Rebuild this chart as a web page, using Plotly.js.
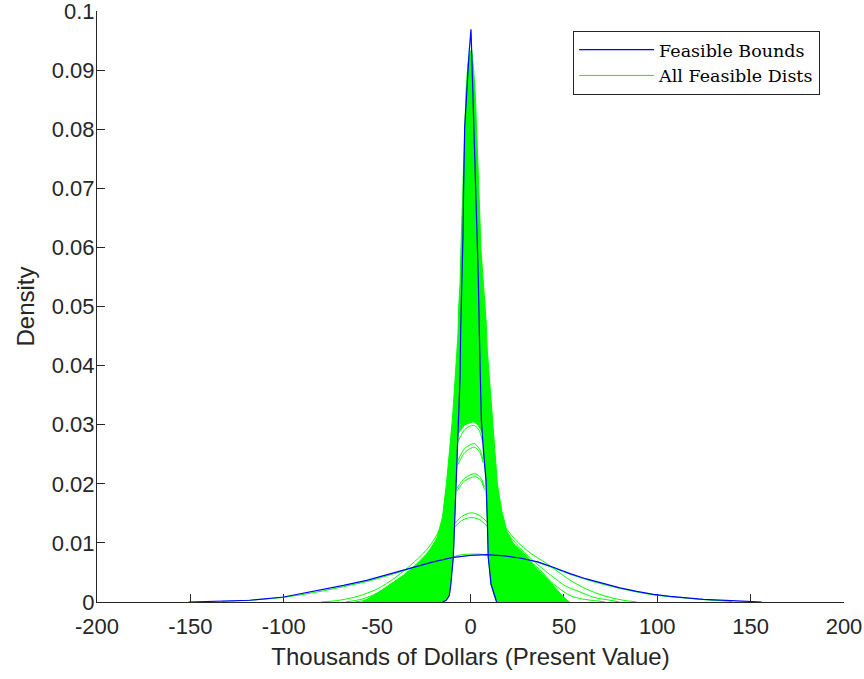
<!DOCTYPE html>
<html>
<head>
<meta charset="utf-8">
<script src="https://cdn.plot.ly/plotly-3.0.1.min.js"></script>
<style>html,body{margin:0;padding:0;background:#fff;}#chart{width:864px;height:679px;}</style>
</head>
<body>
<div id="chart"></div>
<script>
// ---- Data ----
const xTickVals = [-200, -150, -100, -50, 0, 50, 100, 150, 200];
const xTickText = ["-200", "-150", "-100", "-50", "0", "50", "100", "150", "200"];
const yTickVals = [0, 0.01, 0.02, 0.03, 0.04, 0.05, 0.06, 0.07, 0.08, 0.09, 0.1];
const yTickText = ["0", "0.01", "0.02", "0.03", "0.04", "0.05", "0.06", "0.07", "0.08", "0.09", "0.1"];

// Feasible bounds (blue)
const narrowX = [-14.9, -13.0, -11.35, -10.5, -9.2, -8.5, -7.8, -7.05, -6.3, -5.6, -5.25, -4.4, -4.0, -3.7, -3.1, -2.25, -1.7, -0.8, 0.27, 0.64, 1.2, 1.5, 2.25, 2.95, 3.4, 3.6, 4.2, 4.7, 5.25, 5.8, 6.9, 8.3, 9.0, 9.5, 11.0, 12.7, 14.0];
const narrowY = [0, 0.0003, 0.0011, 0.003, 0.0076, 0.014, 0.0206, 0.0257, 0.0308, 0.0378, 0.046, 0.0545, 0.0624, 0.0697, 0.0804, 0.0849, 0.0889, 0.0928, 0.0969, 0.0928, 0.0889, 0.0838, 0.0776, 0.0714, 0.0663, 0.0624, 0.0545, 0.046, 0.0378, 0.0308, 0.0257, 0.0206, 0.014, 0.0076, 0.003, 0.0011, 0];
const wideX = [-151, -133, -118, -100, -82.4, -68, -55.6, -44, -32.4, -20, -10, 0, 9, 18, 27, 36, 45, 53.3, 62, 71.1, 80, 89, 98, 106.8, 124.7, 142.5, 156];
const wideY = [0, 0.0001, 0.0003, 0.00085, 0.00186, 0.0028, 0.00367, 0.0047, 0.00576, 0.0068, 0.0075, 0.0079, 0.0080, 0.0078, 0.0074, 0.0068, 0.0058, 0.0048, 0.0039, 0.0031, 0.0024, 0.0018, 0.0013, 0.00096, 0.00046, 0.0002, 0];

// All feasible distributions (green): dense core region outline
const coreX = [-58, -50, -43, -36, -30.6, -25, -21.7, -19.5, -17.8, -15.0, -12.9, -11.2, -9.6, -8.4, -7.1, -6.7, -6.3, -5.6, -5.1, -4.4, -3.9, -3.1, -2.4, -1.4, -0.3, 0.6,
  1.3, 1.7, 2.6, 3.3, 4.4, 4.7, 5.6, 6.85, 8.3, 9.0, 10.4, 11.9, 13.1, 14.4, 16.7, 19.4, 22.9, 30, 35, 41, 46, 50, 53,
  14.0, 12.7, 11.0, 9.5, 9.0, 8.3, 7.4, 6.6, 4.0, 1.5, -3.0, -6.6, -7.05, -7.8, -8.5, -9.2, -10.5, -11.35, -13.0, -14.9, -58];
const coreY = [0, 0.0015, 0.0030, 0.0045, 0.0059, 0.0075, 0.00875, 0.0100, 0.0110, 0.0144, 0.0200, 0.0257, 0.0313, 0.0370, 0.0426, 0.0454, 0.0499, 0.0539, 0.0601, 0.0663, 0.0710, 0.0800, 0.0865, 0.0910, 0.0930, 0.0935,
  0.0915, 0.0900, 0.0855, 0.0800, 0.0724, 0.0680, 0.0597, 0.0539, 0.0478, 0.0426, 0.0370, 0.0313, 0.0257, 0.0200, 0.0155, 0.0121, 0.0099, 0.0078, 0.0058, 0.0040, 0.0022, 0.0008, 0,
  0, 0.0011, 0.003, 0.0076, 0.014, 0.0206, 0.024, 0.0285, 0.0300, 0.0305, 0.0300, 0.0285, 0.0257, 0.0206, 0.014, 0.0076, 0.003, 0.0011, 0.0003, 0, 0];

// Individual green curves visible outside the dense core
const tailL1X = [-16, -22, -30, -40, -50, -60, -70, -80];
const tailL1Y = [0.0125, 0.0094, 0.0068, 0.0042, 0.0022, 0.0010, 0.0003, 0];
const tailL2X = [-17, -24, -32, -41, -50, -58, -67];
const tailL2Y = [0.0110, 0.0080, 0.0055, 0.0032, 0.0015, 0.0005, 0];
const tailL3X = [-16.5, -23, -30, -38, -47, -55, -62];
const tailL3Y = [0.0115, 0.0082, 0.0058, 0.0034, 0.0014, 0.0004, 0];
const tailL4X = [-133, -118, -100, -82, -68, -55, -44, -33, -26, -18];
const tailL4Y = [0.0001, 0.0003, 0.0008, 0.0017, 0.0026, 0.0035, 0.0045, 0.0056, 0.0068, 0.0105];
const tailR1X = [19, 25, 32, 40.8, 53.3, 62, 71, 80, 89];
const tailR1Y = [0.0125, 0.0102, 0.0083, 0.0065, 0.0037, 0.0022, 0.0011, 0.0004, 0];
const tailR2X = [20, 27, 35, 44.3, 51, 58.6, 66, 74.7, 80];
const tailR2Y = [0.0115, 0.0090, 0.0066, 0.0042, 0.0027, 0.0017, 0.0008, 0.0003, 0];
const tailR3X = [21, 28, 37, 44.3, 53.3, 60, 67.5, 72];
const tailR3Y = [0.0105, 0.0080, 0.0055, 0.0031, 0.0011, 0.0005, 0.0002, 0];
const tailR4X = [18, 27, 36, 45, 53.3, 62, 71, 80, 89, 98, 107, 125, 140];
const tailR4Y = [0.0125, 0.0077, 0.0067, 0.0057, 0.0047, 0.0038, 0.0030, 0.0023, 0.0017, 0.0012, 0.0009, 0.0004, 0.0001];
const midX = [-10, -5, 0, 5, 10];
const midY = [0.0076, 0.0080, 0.0081, 0.0081, 0.0079];
const arc1X = [-6.6, -3, 1.5, 4.5, 6.4];  const arc1Y = [0.0272, 0.0292, 0.0299, 0.0291, 0.0272];
const arc2X = [-6.9, -3, 2.0, 5, 6.8];    const arc2Y = [0.0238, 0.0260, 0.0268, 0.0258, 0.0240];
const arc3X = [-6.9, -3, 2.0, 5, 6.8];    const arc3Y = [0.0232, 0.0253, 0.0262, 0.0253, 0.0235];
const arc4X = [-7.3, -3, 2.4, 5.5, 7.5];  const arc4Y = [0.0192, 0.0210, 0.0217, 0.0210, 0.0195];
const arc5X = [-7.3, -3, 2.4, 5.5, 7.5];  const arc5Y = [0.0188, 0.0205, 0.0212, 0.0206, 0.0190];
const arc6X = [-8.4, -4, 0.6, 5, 9.0];    const arc6Y = [0.0133, 0.0146, 0.0151, 0.0146, 0.0135];
const arc7X = [-8.4, -4, 0.6, 5, 9.0];    const arc7Y = [0.0127, 0.0139, 0.0143, 0.0139, 0.0128];

// ---- Build traces ----
const GREEN = '#00ff00';
const BLUE = '#0000ff';
const traces = [];
traces.push({x: coreX, y: coreY, type: 'scatter', mode: 'lines', fill: 'toself', fillcolor: GREEN,
  line: {color: GREEN, width: 1}, showlegend: false, hoverinfo: 'skip'});
const greenCurves = [
  [tailL1X, tailL1Y], [tailL2X, tailL2Y], [tailL3X, tailL3Y], [tailL4X, tailL4Y],
  [tailR1X, tailR1Y], [tailR2X, tailR2Y], [tailR3X, tailR3Y], [tailR4X, tailR4Y],
  [midX, midY], [arc1X, arc1Y], [arc2X, arc2Y], [arc3X, arc3Y], [arc4X, arc4Y],
  [arc5X, arc5Y], [arc6X, arc6Y], [arc7X, arc7Y]
];
greenCurves.forEach((c, i) => traces.push({x: c[0], y: c[1], type: 'scatter', mode: 'lines',
  line: {color: GREEN, width: 1, shape: 'spline', smoothing: 0.8},
  name: 'All Feasible Dists', showlegend: i === 0, legendrank: 2, hoverinfo: 'skip'}));
traces.push({x: wideX, y: wideY, type: 'scatter', mode: 'lines', line: {color: BLUE, width: 1.2},
  name: 'Feasible Bounds', showlegend: true, legendrank: 1, hoverinfo: 'skip'});
traces.push({x: narrowX, y: narrowY, type: 'scatter', mode: 'lines', line: {color: BLUE, width: 1.2},
  showlegend: false, hoverinfo: 'skip'});

const axisFont = {family: 'Liberation Sans, Arial, sans-serif', size: 22, color: '#262626'};
const titleFont = {family: 'Liberation Sans, Arial, sans-serif', size: 24, color: '#262626'};
const layout = {
  width: 864, height: 679,
  margin: {l: 97, r: 20, t: 11, b: 77, pad: 0},
  paper_bgcolor: '#ffffff', plot_bgcolor: '#ffffff',
  showlegend: true,
  xaxis: {
    range: [-200, 200], tickvals: xTickVals, ticktext: xTickText,
    ticks: 'inside', ticklen: 8, tickcolor: '#262626', tickwidth: 1,
    showline: true, linecolor: '#262626', linewidth: 1, mirror: false,
    showgrid: false, zeroline: false, layer: 'below traces',
    tickfont: axisFont, ticklabelstandoff: 5, ticklabeloverflow: 'allow',
    title: {text: 'Thousands of Dollars (Present Value)', font: titleFont, standoff: 9}
  },
  yaxis: {
    range: [0, 0.1000001], tickvals: yTickVals, ticktext: yTickText,
    ticks: 'inside', ticklen: 8, tickcolor: '#262626', tickwidth: 1,
    showline: true, linecolor: '#262626', linewidth: 1, mirror: false,
    showgrid: false, zeroline: false, layer: 'below traces',
    tickfont: axisFont, ticklabelstandoff: -3, ticklabeloverflow: 'allow',
    title: {text: 'Density', font: titleFont, standoff: 10}
  },
  legend: {
    x: 0.968, y: 0.9665, xanchor: 'right', yanchor: 'top',
    bgcolor: '#ffffff', bordercolor: '#262626', borderwidth: 1,
    font: {family: 'DejaVu Serif, serif', size: 17.5, color: '#000000'},
    itemwidth: 75
  }
};
Plotly.newPlot('chart', traces, layout, {staticPlot: true, displayModeBar: false});
</script>
</body>
</html>
